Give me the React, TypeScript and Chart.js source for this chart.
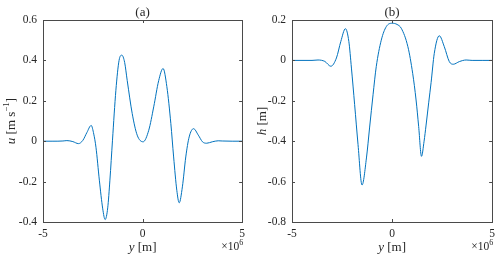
import React, { useEffect, useRef } from "react";
import { Chart, registerables } from "chart.js";
Chart.register(...registerables);

// ---- data (y in units of 1e6 m) ----
const uY = [-5, -4.5, -4.0, -3.8, -3.5, -3.22, -3.0, -2.8, -2.58, -2.45, -2.34, -2.17, -2.0, -1.88, -1.75, -1.64, -1.51, -1.34, -1.18, -1.04, -0.9, -0.77, -0.52, -0.27, 0.03, 0.31, 0.56, 0.81, 1.03, 1.22, 1.42, 1.56, 1.72, 1.84, 2.0, 2.17, 2.34, 2.56, 2.8, 3.01, 3.22, 3.5, 3.8, 4.0, 4.5, 5];
const uValues = [0, 0, 0.001, 0.003, -0.002, -0.012, 0.004, 0.042, 0.078, 0.035, -0.03, -0.193, -0.335, -0.388, -0.33, -0.193, 0.005, 0.252, 0.4, 0.426, 0.39, 0.3, 0.137, 0.03, -0.003, 0.054, 0.17, 0.3, 0.36, 0.27, 0.088, -0.078, -0.243, -0.305, -0.226, -0.078, 0.021, 0.062, 0.03, -0.003, -0.01, -0.003, 0.002, 0.001, 0, 0];

const hY = [-5, -4.5, -4.0, -3.7, -3.36, -3.06, -2.78, -2.56, -2.33, -2.16, -2.03, -1.87, -1.7, -1.5, -1.28, -1.12, -0.95, -0.79, -0.54, -0.29, 0.0, 0.25, 0.46, 0.79, 1.03, 1.2, 1.33, 1.47, 1.6, 1.7, 1.83, 1.95, 2.11, 2.36, 2.61, 2.86, 3.06, 3.36, 3.7, 4.0, 4.5, 5];
const hValues = [0, 0, 0, 0.002, -0.005, -0.029, 0.012, 0.094, 0.157, 0.094, -0.038, -0.219, -0.417, -0.617, -0.483, -0.33, -0.17, -0.031, 0.1, 0.167, 0.184, 0.178, 0.159, 0.068, -0.064, -0.196, -0.328, -0.475, -0.4, -0.32, -0.21, -0.11, 0.035, 0.122, 0.068, -0.006, -0.019, -0.006, 0.002, 0, 0, 0];

const xTicks = [-5, 0, 5];
const uTicks = [-0.4, -0.2, 0, 0.2, 0.4, 0.6];
const hTicks = [-0.8, -0.6, -0.4, -0.2, 0, 0.2];

const FONT = "'Liberation Serif', 'DejaVu Serif', serif";
const TXT = "#262626";
const LINE = "#0072BD";

type Part = { t: string; italic?: boolean; sup?: boolean };

function drawRich(ctx: CanvasRenderingContext2D, parts: Part[], x: number, y: number, size: number, align: "center" | "right", rotate = false) {
  ctx.save();
  ctx.translate(x, y);
  if (rotate) ctx.rotate(-Math.PI / 2);
  const fonts = parts.map((p) => `${p.italic ? "italic " : ""}${p.sup ? Math.round(size * 0.72) : size}px ${FONT}`);
  const widths = parts.map((p, i) => {
    ctx.font = fonts[i];
    return ctx.measureText(p.t).width;
  });
  const total = widths.reduce((a, b) => a + b, 0);
  let cx = align === "center" ? -total / 2 : -total;
  ctx.fillStyle = TXT;
  ctx.textBaseline = "alphabetic";
  ctx.textAlign = "left";
  const base = size * 0.35;
  parts.forEach((p, i) => {
    ctx.font = fonts[i];
    ctx.fillText(p.t, cx, p.sup ? base - size * 0.42 : base);
    cx += widths[i];
  });
  ctx.restore();
}

type Panel = {
  title: string;
  xs: number[];
  vs: number[];
  yTicks: number[];
  yLabel: Part[];
  yLabelX: number;
  padRight: number;
  yWidth: number;
};

function makeChart(canvas: HTMLCanvasElement, p: Panel) {
  const decor = {
    id: "decor",
    afterDraw(chart: any) {
      const { ctx, chartArea: a, scales } = chart;
      const xs = scales.x;
      const ys = scales.y;
      ctx.save();
      ctx.strokeStyle = "#4a4a4a";
      ctx.lineWidth = 1;
      ctx.strokeRect(Math.round(a.left) + 0.5, Math.round(a.top) + 0.5, Math.round(a.right - a.left), Math.round(a.bottom - a.top));
      const tl = 3;
      ctx.beginPath();
      xTicks.forEach((v) => {
        const px = Math.round(xs.getPixelForValue(v)) + 0.5;
        ctx.moveTo(px, a.bottom);
        ctx.lineTo(px, a.bottom - tl);
        ctx.moveTo(px, a.top);
        ctx.lineTo(px, a.top + tl);
      });
      p.yTicks.forEach((v) => {
        const py = Math.round(ys.getPixelForValue(v)) + 0.5;
        ctx.moveTo(a.left, py);
        ctx.lineTo(a.left + tl, py);
        ctx.moveTo(a.right, py);
        ctx.lineTo(a.right - tl, py);
      });
      ctx.stroke();
      ctx.restore();
      const midX = (a.left + a.right) / 2;
      const midY = (a.top + a.bottom) / 2;
      drawRich(ctx, [{ t: p.title }], midX, 11, 13, "center");
      drawRich(ctx, [{ t: "y", italic: true }, { t: " [m]" }], midX, 246, 13, "center");
      drawRich(ctx, [{ t: "×10" }, { t: "6", sup: true }], a.right + 1, 246, 11.5, "right");
      drawRich(ctx, p.yLabel, p.yLabelX, midY, 13, "center", true);
    },
  };

  return new Chart(canvas, {
    type: "line",
    data: {
      datasets: [
        {
          data: p.xs.map((x, i) => ({ x, y: p.vs[i] })),
          borderColor: LINE,
          borderWidth: 1,
          pointRadius: 0,
          fill: false,
          cubicInterpolationMode: "monotone",
        },
      ],
    },
    options: {
      animation: false,
      responsive: false,
      devicePixelRatio: 1,
      layout: { padding: { left: 0, right: p.padRight, top: 20, bottom: 0 } },
      plugins: { legend: { display: false }, tooltip: { enabled: false }, title: { display: false } },
      scales: {
        x: {
          type: "linear",
          min: -5,
          max: 5,
          grid: { display: false, drawTicks: false },
          border: { display: false },
          afterBuildTicks: (s: any) => {
            s.ticks = xTicks.map((v) => ({ value: v }));
          },
          afterFit: (s: any) => {
            s.height = 36;
          },
          ticks: {
            padding: 5,
            color: TXT,
            font: { family: FONT, size: 11.5 },
            maxRotation: 0,
            callback: (v: any) => String(v),
          },
        },
        y: {
          type: "linear",
          min: p.yTicks[0],
          max: p.yTicks[p.yTicks.length - 1],
          grid: { display: false, drawTicks: false },
          border: { display: false },
          afterBuildTicks: (s: any) => {
            s.ticks = p.yTicks.map((v) => ({ value: v }));
          },
          afterFit: (s: any) => {
            s.width = p.yWidth;
          },
          ticks: {
            padding: 6,
            color: TXT,
            font: { family: FONT, size: 11.5 },
            callback: (v: any) => String(v),
          },
        },
      },
    },
    plugins: [decor],
  } as any);
}

function PanelChart({ panel }: { panel: Panel }) {
  const ref = useRef<HTMLCanvasElement | null>(null);
  useEffect(() => {
    if (!ref.current) return;
    const c = makeChart(ref.current, panel);
    return () => c.destroy();
  }, []);
  return <canvas ref={ref} width={250} height={258} style={{ display: "block", width: 250, height: 258 }} />;
}

const panelA: Panel = {
  title: "(a)",
  xs: uY,
  vs: uValues,
  yTicks: uTicks,
  yLabel: [{ t: "u", italic: true }, { t: " [m s" }, { t: "−1", sup: true }, { t: "]" }],
  yLabelX: 10,
  padRight: 5,
  yWidth: 43,
};

const panelB: Panel = {
  title: "(b)",
  xs: hY,
  vs: hValues,
  yTicks: hTicks,
  yLabel: [{ t: "h", italic: true }, { t: " [m]" }],
  yLabelX: 11,
  padRight: 7,
  yWidth: 42,
};

export default function App() {
  return (
    <div style={{ position: "absolute", left: 0, top: 0, width: 500, height: 258, display: "flex", background: "#fff" }}>
      <PanelChart panel={panelA} />
      <PanelChart panel={panelB} />
    </div>
  );
}
